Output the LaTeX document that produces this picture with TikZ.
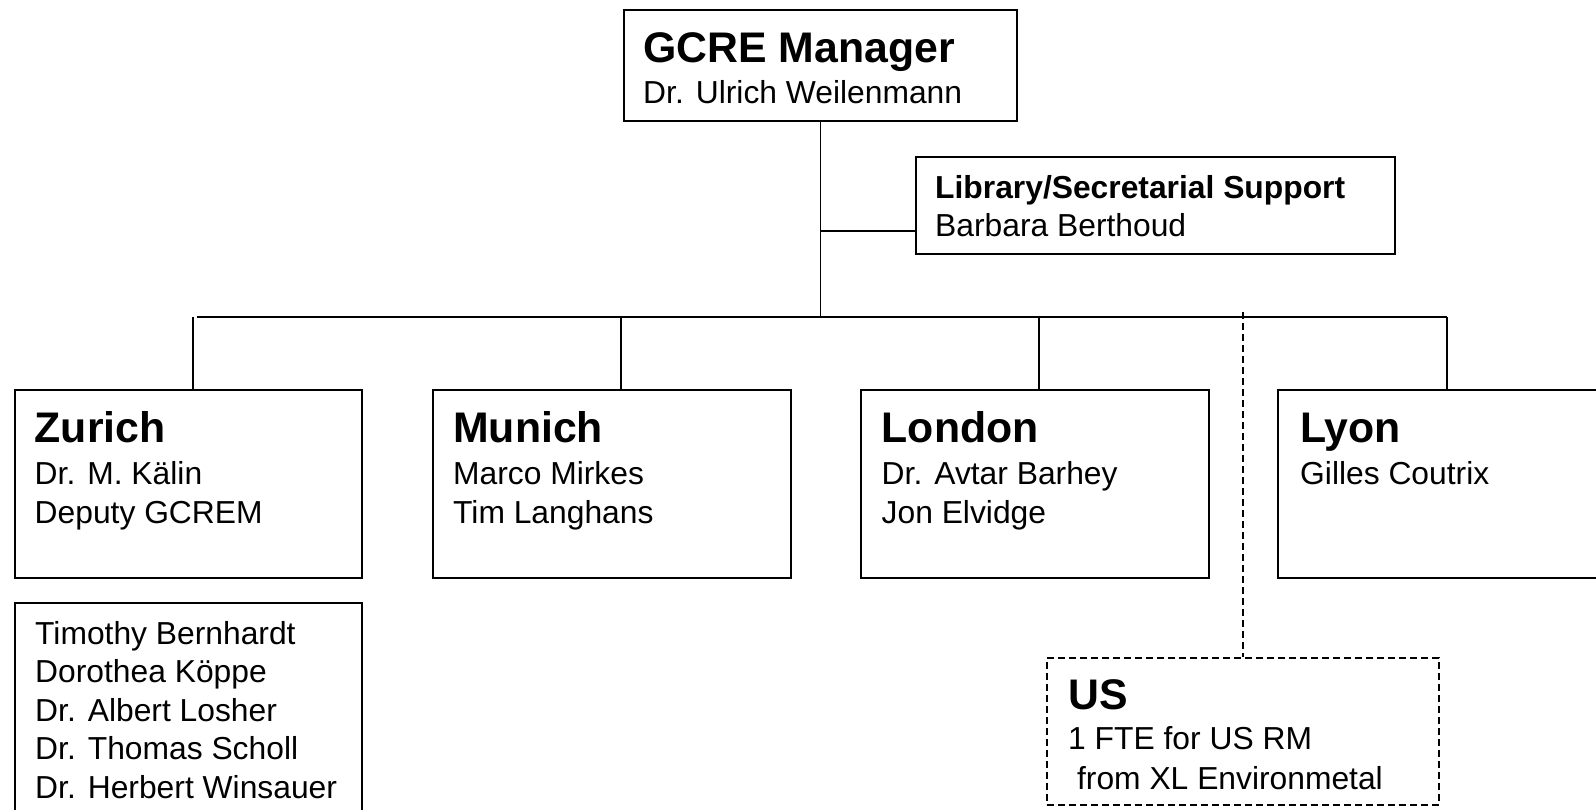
\documentclass[tikz,border=0pt]{standalone}
\usepackage{fontspec}
\setmainfont{Liberation Sans}
\frenchspacing
\newcommand\hstrut{\rule{0pt}{34pt}}
\newcommand\nstrut{\rule{0pt}{25pt}}
\newcommand\hd[1]{{\fontsize{42.8}{40}\selectfont\bfseries #1}}
\newcommand\Dr{Dr.\kern0.1em\ }
\begin{document}
\begin{tikzpicture}[x=1pt,y=-1pt,
  box/.style={draw, line width=1.7pt, inner sep=0pt, anchor=north west},
  dbox/.style={box, dash pattern=on 7pt off 4pt},
  conn/.style={line width=1.4pt},
  dconn/.style={line width=1.4pt, dash pattern=on 7pt off 4pt},
  txt/.style={anchor=north west, inner sep=0pt, align=left, font=\frenchspacing\fontsize{31.8}{#1}\selectfont},
  txt/.default=40]
\useasboundingbox (0,0) rectangle (1596,810);
\clip (0,0) rectangle (1596,810);
\fill[white] (0,0) rectangle (1596,810);
% boxes
\node[box, minimum width=393pt, minimum height=111pt] (mgr) at (623,9) {};
\node[box, minimum width=479pt, minimum height=97pt] (lib) at (915,156) {};
\node[box, minimum width=347pt, minimum height=188pt] (zur) at (14,389) {};
\node[box, minimum width=358pt, minimum height=188pt] (mun) at (432,389) {};
\node[box, minimum width=348pt, minimum height=188pt] (lon) at (860,389) {};
\node[box, minimum width=343pt, minimum height=188pt] (lyo) at (1277,389) {};
\node[box, minimum width=347pt, minimum height=240pt] (staff) at (14,602) {};
\node[dbox, minimum width=392pt, minimum height=147pt] (us) at (1046,657) {};
% texts
\node[txt] (mgrT) at (643,28) {\hstrut\hd{GCRE Manager}\\[1pt]\Dr Ulrich Weilenmann};
\node[txt=38] (libT) at (935,173) {\nstrut\textbf{Library/Secretarial Support}\\Barbara Berthoud};
\node[txt=39] (zurT) at (34.5,408) {\hstrut\hd{Zurich}\\[3pt]\Dr M. Kälin\\Deputy GCREM};
\node[txt=39] (munT) at (453,408) {\hstrut\hd{Munich}\\[3pt]Marco Mirkes\\Tim Langhans};
\node[txt=39] (lonT) at (881.5,408) {\hstrut\hd{London}\\[3pt]\Dr Avtar Barhey\\Jon Elvidge};
\node[txt=39] (lyoT) at (1300,408) {\hstrut\hd{Lyon}\\[3pt]Gilles Coutrix};
\node[txt=38.5] (staffT) at (35,619) {\nstrut Timothy Bernhardt\\Dorothea Köppe\\\Dr Albert Losher\\\Dr Thomas Scholl\\\Dr Herbert Winsauer};
\node[txt=40] (usT) at (1068,675) {\hstrut\hd{US}\\[0.5pt]1 FTE for US RM\\\hspace*{0.28em}from XL Environmetal};
% connector points
\coordinate (busL) at (197,317);
\coordinate (busR) at (1447,317);
\coordinate (libtap) at (911,231);
\coordinate (tapZ) at (193,317);
\coordinate (tapM) at (621,317);
\coordinate (tapL) at (1039,317);
\coordinate (tapY) at (1447,317);
\coordinate (tapU) at (1243,312);
% connectors
\draw[conn] (mgr.south) -- (mgr.south |- busL);
\draw[conn] (mgr.south |- libtap) -- (lib.west |- libtap);
\draw[conn] (busL) -- (busR);
\draw[conn] (tapZ) -- (tapZ |- zur.north);
\draw[conn] (tapM) -- (tapM |- mun.north);
\draw[conn] (tapL) -- (tapL |- lon.north);
\draw[conn] (tapY) -- (tapY |- lyo.north);
\draw[dconn] (tapU) -- (tapU |- us.north);
\end{tikzpicture}
\end{document}
